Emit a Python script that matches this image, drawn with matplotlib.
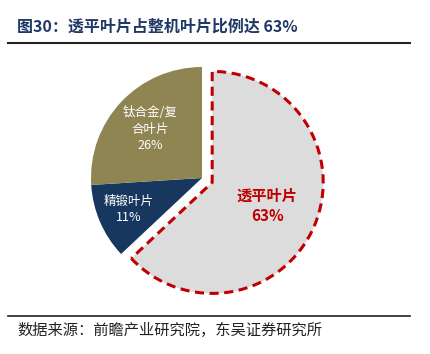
import matplotlib
matplotlib.use("Agg")
import matplotlib.pyplot as plt
import numpy as np

plt.rcParams['font.family'] = ['Noto Sans CJK SC', 'DejaVu Sans']

categories = ["透平叶片", "精锻叶片", "钛合金/复\n合叶片"]
values = [63, 11, 26]
colors = ["#DCDCDC", "#17375E", "#8F8553"]
label_colors = ["#C00000", "white", "white"]
label_weights = ["bold", "normal", "normal"]
label_sizes = [11, 9, 9]
label_dist = [0.54, 0.72, 0.645]
explode_frac = [0.1, 0, 0]
title = "图30：透平叶片占整机叶片比例达 63%"
source = "数据来源：前瞻产业研究院，东吴证券研究所"

W, H = 430, 354
fig = plt.figure(figsize=(W / 100, H / 100), dpi=100)
ax = fig.add_axes([0, 0, 1, 1])

cx, cy, R = 202, H - 178, 111
wedges, _ = ax.pie(values, colors=colors, startangle=90, counterclock=False,
                   explode=[e * R for e in explode_frac], center=(cx, cy),
                   radius=R, wedgeprops=dict(linewidth=0))
wedges[0].set_edgecolor("#C00000")
wedges[0].set_linewidth(2.2)
wedges[0].set_linestyle((0, (3, 1.8)))

for w, cat, v, c, fw, fs, d in zip(wedges, categories, values, label_colors,
                                   label_weights, label_sizes, label_dist):
    ang = np.deg2rad((w.theta1 + w.theta2) / 2)
    x = w.center[0] + d * w.r * np.cos(ang)
    y = w.center[1] + d * w.r * np.sin(ang)
    ax.text(x, y, f"{cat}\n{v}%", ha="center", va="center", color=c,
            fontsize=fs, fontweight=fw, linespacing=1.35)

ax.set_xlim(0, W)
ax.set_ylim(0, H)
ax.set_aspect("equal")
ax.axis("off")

fig.text(17 / W, 1 - 27 / H, title, fontsize=11.5, fontweight="bold",
         color="#1F3864", ha="left", va="center")
fig.add_artist(plt.Line2D([8 / W, 410 / W], [1 - 43 / H, 1 - 43 / H],
                          color="#222222", linewidth=1.5))
fig.add_artist(plt.Line2D([8 / W, 410 / W], [1 - 316 / H, 1 - 316 / H],
                          color="#222222", linewidth=1.2))
fig.text(17 / W, 1 - 330 / H, source, fontsize=11, color="#222222",
         ha="left", va="center")

fig.savefig("out.png", dpi=100, facecolor="white")
